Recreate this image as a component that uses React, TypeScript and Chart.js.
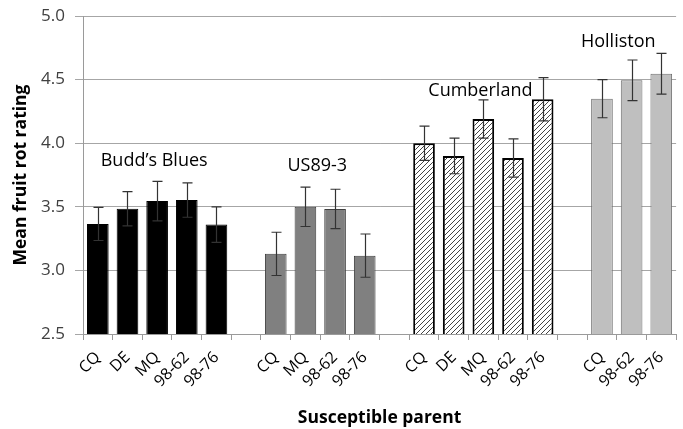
import { useEffect, useRef } from 'react';
import { Chart, registerables } from 'chart.js';

Chart.register(...registerables);

// Mean fruit rot rating by resistant parent (group) and susceptible parent (bar)
const buddsCultivars = ['CQ', 'DE', 'MQ', '98-62', '98-76'];
const buddsMeans = [3.365, 3.485, 3.545, 3.553, 3.36];
const buddsErrors = [0.13, 0.135, 0.155, 0.135, 0.14];

const us893Cultivars = ['CQ', 'MQ', '98-62', '98-76'];
const us893Means = [3.13, 3.5, 3.483, 3.116];
const us893Errors = [0.17, 0.155, 0.155, 0.17];

const cumberlandCultivars = ['CQ', 'DE', 'MQ', '98-62', '98-76'];
const cumberlandMeans = [4.0, 3.9, 4.19, 3.884, 4.345];
const cumberlandErrors = [0.135, 0.14, 0.15, 0.15, 0.17];

const hollistonCultivars = ['CQ', '98-62', '98-76'];
const hollistonMeans = [4.35, 4.494, 4.546];
const hollistonErrors = [0.15, 0.16, 0.16];

const groupNames = ['Budd\u2019s Blues', 'US89-3', 'Cumberland', 'Holliston'];
// where each group name sits: value on the y scale, shift in category slots
const groupLabelY = [3.86, 3.82, 4.41, 4.8];
const groupLabelShift = [-0.1, -0.1, -0.1, -0.45];

const yMin = 2.5;
const yMax = 5.0;
const yStep = 0.5;

const FONT = '"Open Sans", "DejaVu Sans", sans-serif';

function makeHatch(): CanvasPattern | string {
  const tile = document.createElement('canvas');
  tile.width = 5;
  tile.height = 5;
  const c = tile.getContext('2d');
  if (!c) return '#ffffff';
  c.fillStyle = '#ffffff';
  c.fillRect(0, 0, 5, 5);
  c.strokeStyle = '#444444';
  c.lineWidth = 1;
  c.beginPath();
  c.moveTo(-1, 6);
  c.lineTo(6, -1);
  c.stroke();
  return c.createPattern(tile, 'repeat') || '#ffffff';
}

export default function App() {
  const canvasRef = useRef<HTMLCanvasElement | null>(null);

  useEffect(() => {
    const canvas = canvasRef.current;
    if (!canvas) return;

    const groups = [
      { cultivars: buddsCultivars, means: buddsMeans, errors: buddsErrors },
      { cultivars: us893Cultivars, means: us893Means, errors: us893Errors },
      { cultivars: cumberlandCultivars, means: cumberlandMeans, errors: cumberlandErrors },
      { cultivars: hollistonCultivars, means: hollistonMeans, errors: hollistonErrors },
    ];

    const hatch = makeHatch();
    const styles = [
      { backgroundColor: '#000000', borderColor: '#000000', borderWidth: 1 },
      { backgroundColor: '#808080', borderColor: '#3f3f3f', borderWidth: 1 },
      { backgroundColor: hatch, borderColor: '#000000', borderWidth: 2 },
      { backgroundColor: '#bfbfbf', borderColor: '#6f6f6f', borderWidth: 1 },
    ];

    // category slots: each group's cultivars followed by one empty spacer slot
    const labels: string[] = [];
    const starts: number[] = [];
    groups.forEach((g, gi) => {
      if (gi > 0) labels.push('');
      starts.push(labels.length);
      g.cultivars.forEach((c) => labels.push(c));
    });

    const datasets = groups.map((g, gi) => {
      const data: (number | null)[] = labels.map(() => null);
      const errs: (number | null)[] = labels.map(() => null);
      g.means.forEach((m, i) => {
        data[starts[gi] + i] = m;
        errs[starts[gi] + i] = g.errors[i];
      });
      return {
        label: groupNames[gi],
        data,
        errors: errs,
        ...styles[gi],
        borderSkipped: false,
        barPercentage: 0.73,
        categoryPercentage: 1,
        grouped: false,
      };
    });

    const errorBars = {
      id: 'errorBars',
      afterDatasetsDraw(chart: any) {
        const ctx = chart.ctx;
        const y = chart.scales.y;
        ctx.save();
        ctx.strokeStyle = '#333333';
        ctx.lineWidth = 1.2;
        chart.data.datasets.forEach((ds: any, di: number) => {
          const meta = chart.getDatasetMeta(di);
          ds.data.forEach((v: number | null, i: number) => {
            const e = ds.errors[i];
            if (v === null || e === null) return;
            const x = Math.round(meta.data[i].x) + 0.5;
            const top = y.getPixelForValue(v + e);
            const bot = y.getPixelForValue(v - e);
            ctx.beginPath();
            ctx.moveTo(x, top);
            ctx.lineTo(x, bot);
            ctx.moveTo(x - 5, top);
            ctx.lineTo(x + 5, top);
            ctx.moveTo(x - 5, bot);
            ctx.lineTo(x + 5, bot);
            ctx.stroke();
          });
        });
        ctx.restore();
      },
    };

    const groupLabels = {
      id: 'groupLabels',
      afterDatasetsDraw(chart: any) {
        const ctx = chart.ctx;
        const xs = chart.scales.x;
        const ys = chart.scales.y;
        ctx.save();
        ctx.font = `18px ${FONT}`;
        ctx.fillStyle = '#000000';
        ctx.textAlign = 'center';
        ctx.textBaseline = 'middle';
        groups.forEach((g, gi) => {
          const mid = starts[gi] + (g.cultivars.length - 1) / 2 + groupLabelShift[gi];
          ctx.fillText(groupNames[gi], xs.getPixelForValue(mid), ys.getPixelForValue(groupLabelY[gi]));
        });
        ctx.restore();
      },
    };

    const chart = new Chart(canvas, {
      type: 'bar',
      data: { labels, datasets: datasets as any },
      options: {
        animation: false,
        responsive: false,
        devicePixelRatio: 1,
        layout: { padding: { top: 16, right: 6, left: 0, bottom: 0 } },
        plugins: {
          legend: { display: false },
          tooltip: { enabled: false },
        },
        scales: {
          x: {
            type: 'category',
            offset: true,
            afterFit(scale: any) {
              scale.height = 95;
            },
            grid: {
              offset: true,
              drawOnChartArea: false,
              drawTicks: true,
              tickLength: 6,
              color: '#9a9a9a',
            },
            border: { color: '#9a9a9a', width: 1 },
            ticks: {
              autoSkip: false,
              maxRotation: 45,
              minRotation: 45,
              padding: 8,
              color: '#000000',
              font: { family: FONT, size: 16 },
            },
            title: {
              display: true,
              text: 'Susceptible parent',
              color: '#000000',
              font: { family: FONT, size: 17.5, weight: 'bold' },
              padding: { top: 0, bottom: 0 },
            },
          },
          y: {
            min: yMin,
            max: yMax,
            afterFit(scale: any) {
              scale.width = 83;
              scale.paddingTop = 10;
              scale.paddingBottom = 10;
            },
            grid: {
              color: '#a6a6a6',
              lineWidth: 1,
              tickLength: 8,
            },
            border: { color: '#9a9a9a', width: 1 },
            ticks: {
              stepSize: yStep,
              padding: 10,
              color: '#404040',
              font: { family: FONT, size: 17 },
              callback: (v: any) => Number(v).toFixed(1),
            },
            title: {
              display: true,
              text: 'Mean fruit rot rating',
              color: '#000000',
              font: { family: FONT, size: 17.5, weight: 'bold' },
              padding: { top: 11, bottom: 0 },
            },
          },
        },
      },
      plugins: [errorBars, groupLabels],
    });

    return () => chart.destroy();
  }, []);

  return (
    <div style={{ position: 'fixed', left: 0, top: 0, width: 683, height: 429, background: '#ffffff' }}>
      <canvas ref={canvasRef} width={683} height={429} style={{ display: 'block', width: 683, height: 429 }} />
    </div>
  );
}
